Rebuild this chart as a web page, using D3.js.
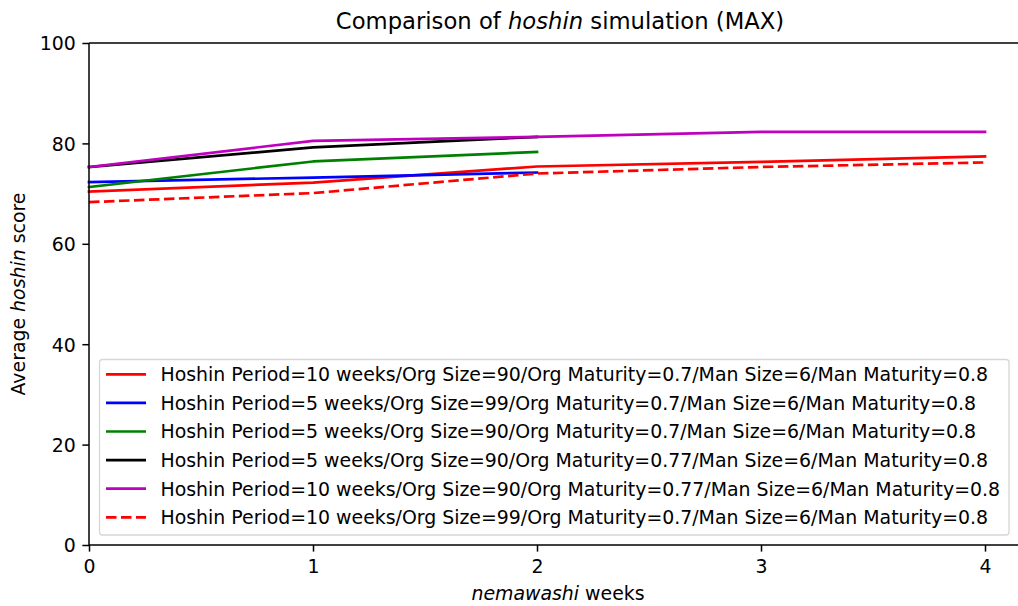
<!DOCTYPE html>
<html><head><meta charset="utf-8">
<script src="https://cdn.jsdelivr.net/npm/d3@7"></script>
<style>
body{margin:0;background:#fff;}
svg{display:block;font-family:"DejaVu Sans",sans-serif;}
</style></head>
<body><svg id="c" width="1018" height="606"></svg>
<script>
const weeks = [0, 1, 2, 3, 4];
const xTicks = [0, 1, 2, 3, 4];
const yTicks = [0, 20, 40, 60, 80, 100];
const seriesNames = [
  "Hoshin Period=10 weeks/Org Size=90/Org Maturity=0.7/Man Size=6/Man Maturity=0.8",
  "Hoshin Period=5 weeks/Org Size=99/Org Maturity=0.7/Man Size=6/Man Maturity=0.8",
  "Hoshin Period=5 weeks/Org Size=90/Org Maturity=0.7/Man Size=6/Man Maturity=0.8",
  "Hoshin Period=5 weeks/Org Size=90/Org Maturity=0.77/Man Size=6/Man Maturity=0.8",
  "Hoshin Period=10 weeks/Org Size=90/Org Maturity=0.77/Man Size=6/Man Maturity=0.8",
  "Hoshin Period=10 weeks/Org Size=99/Org Maturity=0.7/Man Size=6/Man Maturity=0.8"
];
const redValues = [70.4, 72.2, 75.4, 76.3, 77.4];
const blueValues = [72.3, 73.2, 74.2];
const greenValues = [71.3, 76.4, 78.3];
const blackValues = [75.3, 79.2, 81.3];
const magentaValues = [75.3, 80.5, 81.3, 82.3, 82.3];
const redDashedValues = [68.3, 70.1, 74.0, 75.3, 76.2];

const series = [
  {name: seriesNames[0], values: redValues, color: "#ff0000", dash: null},
  {name: seriesNames[1], values: blueValues, color: "#0000ff", dash: null},
  {name: seriesNames[2], values: greenValues, color: "#008000", dash: null},
  {name: seriesNames[3], values: blackValues, color: "#000000", dash: null},
  {name: seriesNames[4], values: magentaValues, color: "#bf00bf", dash: null},
  {name: seriesNames[5], values: redDashedValues, color: "#ff0000", dash: "10.5,4.5"}
];

const svg = d3.select("#c");
const L = 89, T = 43, B = 545;
const x = d3.scaleLinear().domain([0, 4.2]).range([L, L + 4.2 * 224]);
const y = d3.scaleLinear().domain([0, 100]).range([B, T]);

// lines
const line = d3.line().x((d, i) => x(weeks[i])).y(d => y(d));
const gLines = svg.append("g");
series.forEach(s => {
  gLines.append("path").datum(s.values)
    .attr("d", line).attr("fill", "none")
    .attr("stroke", s.color).attr("stroke-width", 2.7)
    .attr("stroke-dasharray", s.dash)
    .attr("stroke-linecap", s.dash ? "butt" : "square")
    .attr("stroke-linejoin", "round");
});

// axes
const xAxis = d3.axisBottom(x).tickValues(xTicks).tickFormat(d3.format("d")).tickSize(6.6).tickPadding(6.6);
const yAxis = d3.axisLeft(y).tickValues(yTicks).tickFormat(d3.format("d")).tickSize(6.6).tickPadding(6.6);
const gx = svg.append("g").attr("transform", `translate(0,${B})`).call(xAxis);
const gy = svg.append("g").attr("transform", `translate(${L},0)`).call(yAxis);
[gx, gy].forEach(g => {
  g.select(".domain").remove();
  g.selectAll("line").attr("stroke", "#000").attr("stroke-width", 1.5);
  g.selectAll("text").attr("font-size", 18.9).attr("fill", "#000").attr("font-family", "DejaVu Sans");
});
gx.selectAll("text").attr("dy", null).attr("y", 28);
gy.selectAll("text").attr("x", -13.2).attr("dy", "0.36em");

// spines
const spine = svg.append("g").attr("stroke", "#000").attr("stroke-width", 1.5).attr("fill", "none");
spine.append("line").attr("x1", L).attr("x2", 1030).attr("y1", B).attr("y2", B);
spine.append("line").attr("x1", L).attr("x2", 1030).attr("y1", T).attr("y2", T);
spine.append("line").attr("x1", L).attr("x2", L).attr("y1", T).attr("y2", B);

// title
const title = svg.append("text").attr("x", 560).attr("y", 29).attr("text-anchor", "middle")
  .attr("font-size", 22.7).attr("fill", "#000");
title.append("tspan").text("Comparison of ");
title.append("tspan").attr("font-style", "italic").text("hoshin");
title.append("tspan").text(" simulation (MAX)");

// x label
const xl = svg.append("text").attr("x", 558).attr("y", 600).attr("text-anchor", "middle")
  .attr("font-size", 18.9).attr("fill", "#000");
xl.append("tspan").attr("font-style", "italic").text("nemawashi");
xl.append("tspan").text(" weeks");

// y label
const yl = svg.append("text").attr("transform", `translate(25,${(T + B) / 2}) rotate(-90)`)
  .attr("text-anchor", "middle").attr("font-size", 18.9).attr("fill", "#000");
yl.append("tspan").text("Average ");
yl.append("tspan").attr("font-style", "italic").text("hoshin");
yl.append("tspan").text(" score");

// legend
const lg = svg.append("g");
lg.append("rect").attr("x", 99.5).attr("y", 359.5).attr("width", 909.5).attr("height", 175.5)
  .attr("rx", 3).attr("fill", "#fff").attr("fill-opacity", 0.8)
  .attr("stroke", "#d6d6d6").attr("stroke-width", 1.3);
series.forEach((s, i) => {
  const cy = 374.3 + i * 28.6;
  lg.append("line").attr("x1", 106).attr("x2", 146).attr("y1", cy).attr("y2", cy)
    .attr("stroke", s.color).attr("stroke-width", 2.7).attr("stroke-dasharray", s.dash);
  lg.append("text").attr("x", 160.5).attr("y", cy).attr("dy", "0.36em")
    .attr("font-size", 18.9).attr("fill", "#000").text(s.name);
});
</script></body></html>
